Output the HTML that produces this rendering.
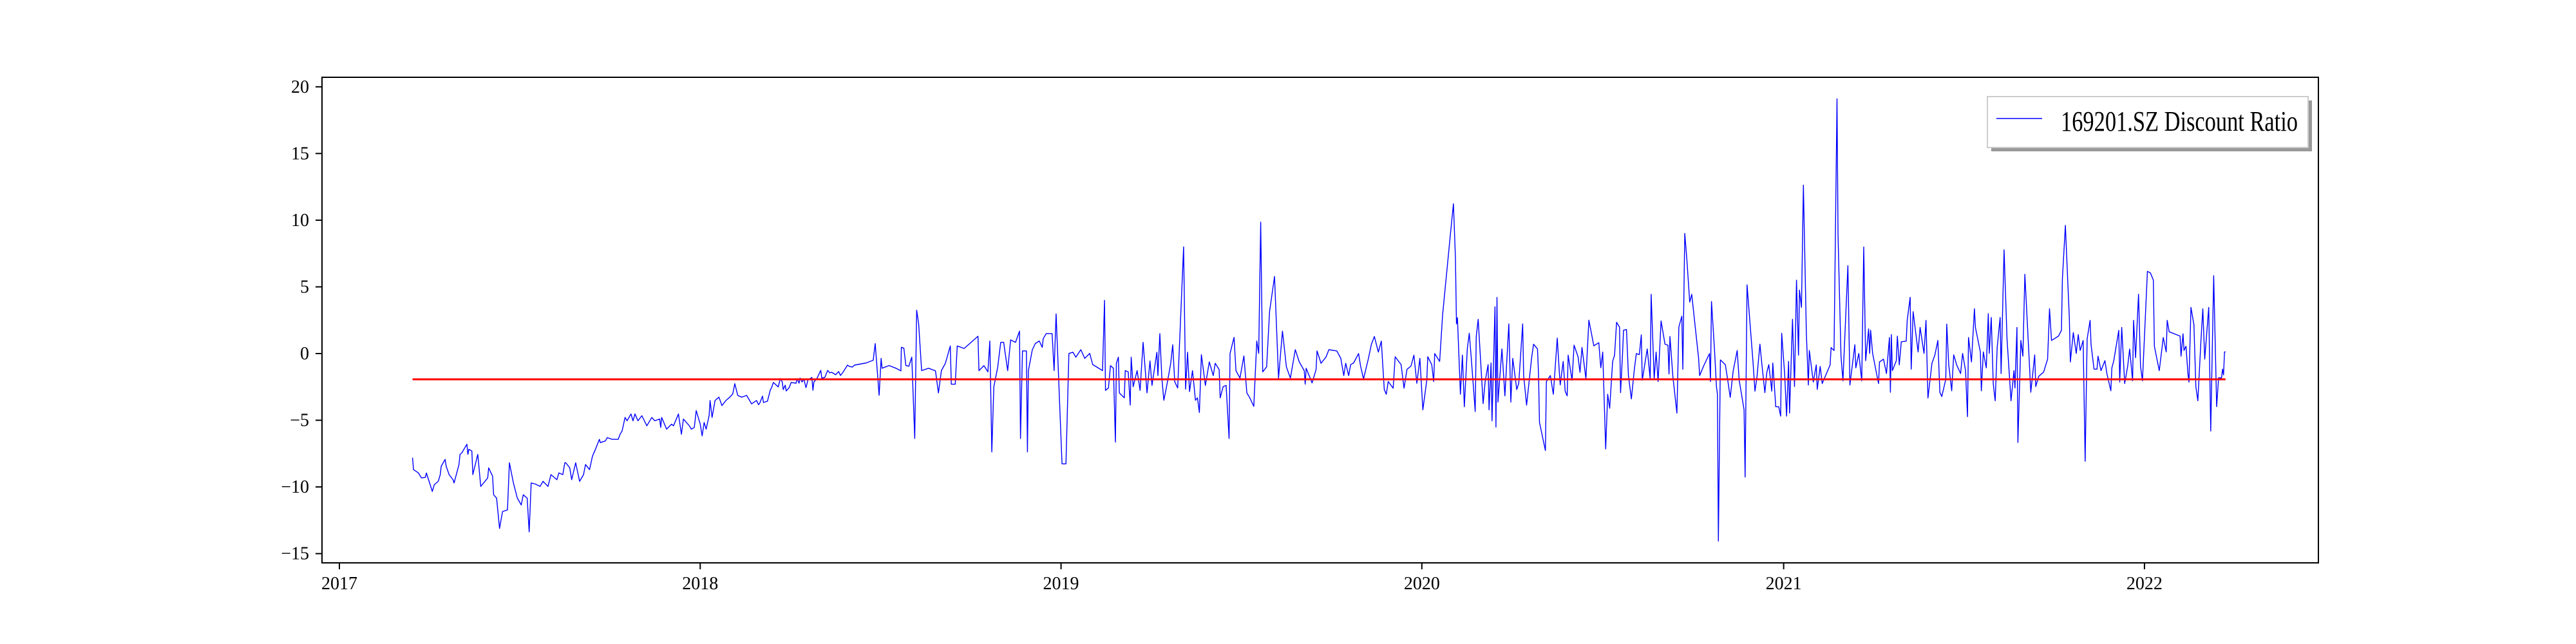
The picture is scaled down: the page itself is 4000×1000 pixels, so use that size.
<!DOCTYPE html>
<html><head><meta charset="utf-8"><title>169201.SZ Discount Ratio</title>
<style>html,body{margin:0;padding:0;background:#fff;}svg{display:block;}text{font-family:"Liberation Serif",serif;fill:#000;}</style>
</head><body>
<svg id="chart" width="4000" height="1000" viewBox="0 0 4000 1000" xmlns="http://www.w3.org/2000/svg">
<rect x="0" y="0" width="4000" height="1000" fill="#fff"/>
<g id="plot"></g>
<g id="axes"></g>
<g>
<rect x="3092" y="156" width="498" height="79" fill="#999"/>
<rect x="3086" y="150" width="498" height="79" fill="#fff" stroke="#ccc" stroke-width="2"/>
<line x1="3100" y1="184" x2="3171" y2="184" stroke="#0000ff" stroke-width="1.5"/>
<text x="3200" y="203" font-size="44" textLength="368" lengthAdjust="spacingAndGlyphs">169201.SZ Discount Ratio</text>
</g>
</svg>
<script>
// x = days since 2017-01-01, y = discount ratio (%)
const days1 = [74,75,80,83,87,88,94,96,100,102,103,107,108,111,115,116,121,122,124,129,130,131,134,135,140,143,150,151,155,156,159,162,165,170,172,176,180,184,186,190,192,194,198,203,206,211,214,220,222,226,228,229,233,235,239,243,247,249,253,256,259,263,264,269,271,276,282,284,286,289,291,295,297,299,302,306,311,316,319,324,325,326,331,336,338,343,346,348,354,356,359,361,365,367,369,371,374,375,377,380,384,387,391,395,398,400,403,407,412,417,422,424];
const vals1 = [-7.81,-8.7,-8.95,-9.33,-9.28,-8.95,-10.34,-9.83,-9.58,-9.08,-8.45,-7.94,-8.45,-9.08,-9.46,-9.7,-8.32,-7.56,-7.43,-6.8,-7.56,-7.18,-7.31,-9.08,-7.56,-9.96,-9.33,-8.57,-9.2,-10.59,-10.84,-13.11,-11.85,-11.72,-8.19,-9.7,-10.84,-11.35,-10.59,-10.84,-13.37,-9.7,-9.78,-9.96,-9.58,-9.96,-9.08,-9.46,-8.95,-9.08,-8.19,-8.19,-8.57,-9.46,-8.19,-9.58,-9.08,-8.32,-8.7,-7.69,-7.18,-6.43,-6.68,-6.55,-6.3,-6.43,-6.43,-6.05,-5.8,-4.79,-5.04,-4.53,-5.04,-4.53,-5.04,-4.66,-5.42,-4.79,-5.04,-4.91,-5.54,-4.79,-5.67,-5.29,-5.42,-4.53,-6.05,-4.91,-5.42,-5.67,-5.54,-4.28,-5.29,-6.17,-5.16,-5.67,-4.66,-3.52,-4.79,-3.52,-3.27,-3.9,-3.52,-3.27,-3.02,-2.26,-3.14,-3.27,-3.14,-3.77,-3.52,-3.83];
const days2 = [425,428,429,433,436,437,439,442,444,446,448,449,451,452,455,457,462,463,465,466,468,470,472,474,478,479,480,483,487,488,491,494,496,498,502,505,507,509,514,516,519,521,533,540,542,546,548,549,556,563,568,568.5,571,573,576,579,582,584,586,589,596,603,606,609,613,618,619,623,625,632,646,647,652,656,658,660,662,666,669,672,676,679,684,688,689,691,695,696,697,701,704,708,711,712,715,721,723,725,731,735,738,742,745,750,754,759,762,772,774,775,778,780,783,785,786,788,789,794,795,798,800,801,803,807,810,813,817,820,822,827,828,830,832,834,837,841,843,845,848,854,856,858,860,863,866,868,870,872,876,880,884,886,890,891,894,897,900,901,905,907,911,915,918,921,925,928,930,932,934,938,941,946,950,954,958,962,967,971,976,977,978,984,988,989,993,998,1001,1009,1013,1016,1018,1021];
const vals2 = [-3.75,-3.19,-3.67,-3.57,-2.7,-2.6,-2.17,-2.37,-2.5,-1.88,-2.13,-2.7,-2.37,-2.8,-2.56,-2.17,-2.22,-1.88,-2.22,-1.84,-2.13,-1.93,-2.56,-1.98,-1.79,-2.75,-2.13,-1.88,-1.26,-1.84,-1.79,-1.26,-1.45,-1.4,-1.59,-1.35,-1.64,-1.45,-0.87,-0.97,-1.01,-0.87,-0.7,-0.5,0.75,-3.13,-0.36,-1.1,-0.9,-1.1,-1.3,0.47,0.4,-0.9,-0.95,-0.27,-6.37,3.25,2.23,-1.28,-1.1,-1.3,-2.95,-1.28,-0.73,0.57,-2.3,-2.3,0.57,0.38,1.3,-1.28,-0.91,-1.37,0.94,-7.38,-2.5,-1.0,0.84,0.84,-1.28,1.03,0.84,1.68,-6.37,0.2,0.2,-7.38,-1.28,0.29,0.75,0.94,0.47,1.12,1.49,1.49,-1.28,2.97,-8.27,-8.27,0.01,0.1,-0.27,0.29,-0.36,0.01,-0.82,-1.28,3.99,-2.76,-2.58,-0.91,-1.1,-6.64,-0.73,-0.27,-2.95,-3.32,-1.28,-1.37,-3.87,-0.27,-2.48,-1.28,-2.76,0.84,-2.95,-0.55,-2.39,0.1,-1.65,1.49,-1.84,-3.5,-2.39,-0.73,0.66,-2.11,-2.58,8.0,-2.67,0.1,-2.85,-1.28,-3.5,-3.32,-4.42,-0.08,-2.39,-0.63,-1.65,-0.73,-1.2,-3.32,-2.48,-2.39,-6.37,0.01,1.21,-1.28,-1.84,-0.18,-2.95,-3.32,-3.96,0.94,0.01,9.85,-1.37,-1.0,3.16,5.78,-1.84,1.68,-1.0,-1.84,0.29,-0.63,-1.28,-2.3,-1.1,-2.2,-1.2,0.2,-0.73,-0.27,0.29,0.2,-0.36,-1.65,-0.73,-1.65];
const days3 = [1023,1026,1031,1033,1036,1041,1044,1047,1051,1054,1057,1059,1061,1066,1068,1074,1077,1080,1084,1087,1090,1093,1096,1100,1101,1105,1107,1108,1113,1116,1124,1127,1129,1130,1131,1134,1136,1138,1141,1143,1145,1149,1150,1152,1157,1159,1162,1163,1165,1166,1169,1170,1171,1172,1176,1179,1183,1185,1187,1191,1193,1197,1198,1201,1206,1208,1212,1213,1214,1220,1221,1225,1228,1232,1234,1235,1238,1240,1242,1243,1247,1249,1253,1255,1257,1261,1264,1269,1274,1276,1278,1281,1283,1285,1288,1290,1292,1295,1296,1298,1299,1302,1304,1307,1310,1312,1315,1317,1318,1323,1326,1327,1330,1332,1334,1337,1341,1344,1345,1346,1349,1353,1355,1358,1359,1361,1363,1366,1368,1375,1376,1380,1386,1387,1388,1391,1393,1394,1395,1397,1402,1404,1407,1410,1414,1416,1421,1422,1424,1430,1432,1434,1437,1439,1442,1444,1446,1449,1450,1453,1456,1458,1459,1462,1464,1466,1467,1470,1472,1474,1476];
const vals3 = [-0.83,-0.7,0.0,-0.94,-1.9,-0.36,0.7,1.28,0.11,0.93,-2.7,-3.05,-2.1,-2.6,-0.24,-0.83,-2.6,-1.18,-0.94,-0.12,-2.23,-0.36,-4.22,-2.0,-0.24,-0.83,-2.1,0.0,-0.59,2.92,9.01,11.23,7.14,2.22,2.69,-3.05,-0.12,-3.99,0.35,1.52,-0.36,-4.34,1.28,2.57,-3.75,-2.1,-0.83,-4.22,-0.71,-5.04,3.51,-5.51,4.21,-3.64,0.35,-3.17,2.22,-3.64,-0.36,-2.7,-2.23,2.22,-1.65,-3.87,-0.36,0.7,0.35,-1.53,-5.16,-7.27,-2.1,-1.65,-3.05,1.16,-1.3,-2.35,-0.59,-2.82,-3.17,-0.12,-2.0,0.63,-0.24,-1.41,0.46,-1.88,2.5,0.58,0.81,-1.06,0.11,-7.15,-3.05,-4.1,-0.59,-0.12,2.34,1.98,-2.93,-0.12,1.75,1.8,-1.65,-3.4,-1.18,0.0,-0.08,1.4,-2.0,0.35,-1.88,4.44,-1.88,0.11,-2.1,2.45,0.7,0.63,-1.53,1.28,-1.76,-4.46,1.98,2.8,-1.18,9.01,7.14,3.86,4.44,-0.36,-1.65,-0.94,0.0,-2.1,3.9,0.35,-2.47,-3.05,-14.06,-0.48,-0.83,-1.76,-3.29,-1.3,0.23,-2.0,-4.22,-9.26,5.15,-0.59,-2.82,-1.76,0.7,-0.83,-2.93,-1.41,-0.83,-2.82,-0.71,-3.99,-3.99,-4.69,1.52,-1.53,-4.69,-0.59,-4.46,2.57,-2.47,5.5,-0.12];
const days4 = [1477,1479,1481,1484,1486,1487,1491,1494,1495,1498,1500,1508,1509,1512,1515,1516,1519,1521,1526,1528,1533,1534,1537,1540,1542,1544,1547,1548,1549,1551,1555,1557,1558,1562,1565,1568,1569,1570,1571,1575,1576,1578,1580,1585,1586,1589,1590,1592,1597,1599,1603,1605,1607,1611,1614,1617,1619,1621,1625,1626,1628,1631,1633,1636,1640,1642,1645,1647,1648,1651,1654,1655,1660,1661,1663,1666,1668,1669,1671,1673,1675,1677,1680,1681,1684,1687,1691,1694,1695,1697,1698,1701,1703,1705,1709,1711,1715,1716,1719,1724,1728,1730,1732,1739,1742,1743,1746,1750,1751,1754,1757,1759,1761,1764,1766,1768,1771,1772,1775,1778,1779,1782,1786,1788,1792,1793,1795,1800,1801,1803,1806,1809,1811,1814,1815,1817,1820,1822,1824,1829,1832,1835,1836,1841,1845,1848,1849,1851,1862,1863,1865,1866,1868,1870,1871,1873,1876,1878,1880,1883,1885,1887,1891,1893,1896,1899,1901,1904,1905,1906,1907,1908];
const vals4 = [4.76,3.46,12.63,1.52,-2.36,0.23,-2.14,-0.85,-2.69,-0.96,-2.25,-0.85,0.45,0.23,19.1,8.86,-0.2,-2.04,6.59,-2.36,0.66,-1.07,0.01,-2.04,7.99,-0.53,1.85,0.01,1.74,0.01,-1.5,-2.25,-0.63,-0.42,-1.5,1.2,-2.9,1.42,-1.28,-0.53,1.31,-0.85,0.88,0.93,2.49,4.22,-1.17,3.14,0.12,1.96,0.01,2.49,-3.33,-0.74,-0.1,0.98,-2.9,-3.22,-1.93,2.21,-0.85,-2.79,-0.1,-0.85,-1.5,0.01,-1.28,-4.73,1.2,-0.63,3.36,1.96,0.12,-2.79,0.12,-1.07,2.99,0.01,2.71,-2.25,-3.54,0.45,2.71,-1.5,7.78,1.09,-3.54,-1.28,-2.58,1.96,-6.67,0.98,-0.2,5.94,0.12,-2.9,-0.1,-2.47,-1.71,-1.39,-0.42,3.36,0.98,1.31,1.74,5.62,9.61,2.6,-0.63,1.57,0.01,1.42,0.23,0.98,-8.08,1.09,2.49,0.66,-1.17,-1.17,-0.2,-1.28,-0.53,-1.5,-2.79,-1.07,-0.53,1.74,-2.14,1.96,-2.25,-0.96,0.34,-2.04,2.49,-0.31,4.44,-0.96,-2.04,6.16,6.05,5.51,0.55,-1.28,1.2,0.12,2.49,1.63,1.31,-0.2,1.48,0.23,0.55,-1.5,-2.14,3.46,2.17,-2.47,-3.54,0.77,3.36,-0.42,3.46,-5.81,5.84,-3.98,-1.82,-1.82,-1.17,-1.6,0.12,0.12];
const meanLevel = -1.93;
const yTicks = [-15,-10,-5,0,5,10,15,20];
const xTickDays = [0,365,730,1095,1461,1826];
const xTickLabels = ["2017","2018","2019","2020","2021","2022"];

const NS = "http://www.w3.org/2000/svg";
const L = 500, R = 3600, T = 120, B = 874;
function xScale(d){ return 527 + d * 1.535; }
function yScale(v){ return 549 - v * 20.71; }
function mk(tag, attrs, parent){ const e = document.createElementNS(NS, tag); for (const k in attrs) e.setAttribute(k, attrs[k]); parent.appendChild(e); return e; }

const plot = document.getElementById('plot');
const axes = document.getElementById('axes');
const allDays = days1.concat(days2, days3, days4);
const allVals = vals1.concat(vals2, vals3, vals4);
let d = "";
for (let i = 0; i < allDays.length; i++) d += (i ? "L" : "M") + xScale(allDays[i]).toFixed(1) + "," + yScale(allVals[i]).toFixed(1);
const line = mk('path', {d: d, fill: 'none', stroke: '#0000ff', 'stroke-width': 1.4, 'stroke-linejoin': 'round'}, plot);


const mean = mk('line', {x1: xScale(allDays[0]), x2: xScale(allDays[allDays.length-1]), y1: yScale(meanLevel), y2: yScale(meanLevel), stroke: '#ff0000', 'stroke-width': 3}, plot);



const frame = mk('rect', {x: L, y: T, width: R - L, height: B - T, fill: 'none', stroke: '#000', 'stroke-width': 2}, axes);


yTicks.forEach(v => {
  const y = yScale(v);
  const t = mk('line', {x1: L - 10, x2: L, y1: y, y2: y, stroke: '#000', 'stroke-width': 2}, axes);
  
  
  const lb = mk('text', {x: L - 20, y: y + 9, 'font-size': 28, 'text-anchor': 'end'}, axes);
  lb.textContent = v < 0 ? "\u2212" + Math.abs(v) : String(v);
  
  
});
xTickDays.forEach((dd, i) => {
  const x = xScale(dd);
  const t = mk('line', {x1: x, x2: x, y1: B, y2: B + 10, stroke: '#000', 'stroke-width': 2}, axes);
  
  
  const lb = mk('text', {x: x, y: B + 41, 'font-size': 28, 'text-anchor': 'middle'}, axes);
  lb.textContent = xTickLabels[i];
  
  
});
</script>
</body></html>
